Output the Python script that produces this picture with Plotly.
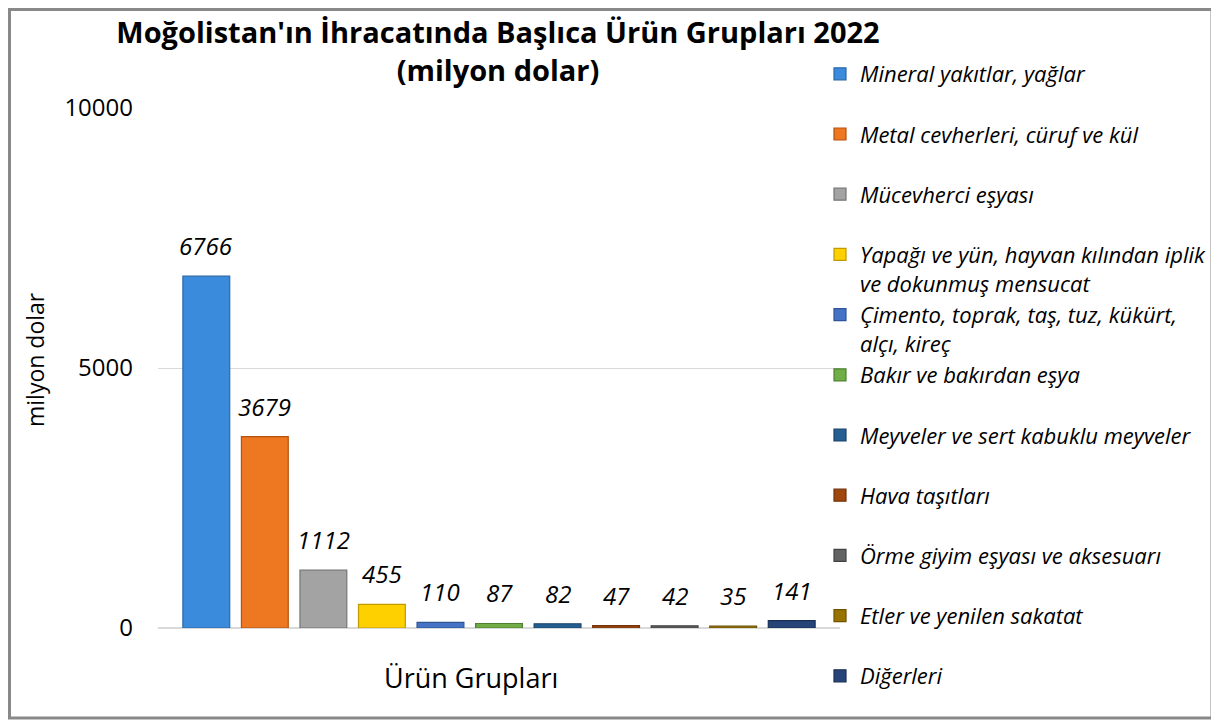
import plotly.graph_objects as go

# ---------------- data ----------------
categories = [
    "Mineral yakıtlar, yağlar",
    "Metal cevherleri, cüruf ve kül",
    "Mücevherci eşyası",
    "Yapağı ve yün, hayvan kılından iplik ve dokunmuş mensucat",
    "Çimento, toprak, taş, tuz, kükürt, alçı, kireç",
    "Bakır ve bakırdan eşya",
    "Meyveler ve sert kabuklu meyveler",
    "Hava taşıtları",
    "Örme giyim eşyası ve aksesuarı",
    "Etler ve yenilen sakatat",
    "Diğerleri",
]
legend_labels = [
    "Mineral yakıtlar, yağlar<br>\u00a0",
    "Metal cevherleri, cüruf ve kül<br>\u00a0",
    "Mücevherci eşyası<br>\u00a0",
    "Yapağı ve yün, hayvan kılından iplik<br>ve dokunmuş mensucat",
    "Çimento, toprak, taş, tuz, kükürt,<br>alçı, kireç",
    "Bakır ve bakırdan eşya<br>\u00a0",
    "Meyveler ve sert kabuklu meyveler<br>\u00a0",
    "Hava taşıtları<br>\u00a0",
    "Örme giyim eşyası ve aksesuarı<br>\u00a0",
    "Etler ve yenilen sakatat<br>\u00a0",
    "Diğerleri<br>\u00a0",
]
values = [6766, 3679, 1112, 455, 110, 87, 82, 47, 42, 35, 141]
y_ticks = [0, 5000, 10000]

title_line1 = "Moğolistan'ın İhracatında Başlıca Ürün Grupları 2022"
title_line2 = "(milyon dolar)"
y_title = "milyon dolar"
x_title = "Ürün Grupları"

fill_colors = ["#3A8BDB", "#EE7722", "#A3A3A3", "#FFD000", "#4472C4", "#70AD47",
               "#255E91", "#9E480E", "#636363", "#997300", "#264478"]
edge_colors = ["#2A68A8", "#B5520E", "#757575", "#C09A00", "#2F5597", "#4E8030",
               "#1A4469", "#73330A", "#444444", "#6E5300", "#1A2F55"]

# ---------------- layout geometry ----------------
# the page body adds an 8px offset, so the figure is 8px smaller on each axis
W, H = 1211, 716
L, R, T, B = 150, 1211 - 832, 100, 716 - 620
PW, PH = W - L - R, H - T - B

FONT = "Open Sans"

fig = go.Figure()
for i, (cat, val) in enumerate(zip(categories, values)):
    fig.add_trace(go.Bar(
        x=[cat], y=[val], name=legend_labels[i], legendgroup=f"g{i}",
        marker=dict(color=fill_colors[i], line=dict(color=edge_colors[i], width=1.2)),
        hovertemplate=f"{cat}: %{{y}}<extra></extra>",
    ))
    fig.add_annotation(
        x=cat, y=val, xref="x", yref="y", text=str(val), showarrow=False,
        yanchor="bottom", yshift=12,
        font=dict(family=FONT, size=24, color="#000000", style="italic"),
    )

# axis labels as text
fig.add_annotation(
    x=(463 - L) / PW, y=(620 - 669) / PH, xref="paper", yref="paper",
    text=x_title, showarrow=False, xanchor="center", yanchor="middle",
    font=dict(family=FONT, size=27, color="#000000"),
)
fig.add_annotation(
    x=(27 - L) / PW, y=(620 - 352) / PH, xref="paper", yref="paper",
    text=y_title, showarrow=False, textangle=-90, xanchor="center", yanchor="middle",
    font=dict(family=FONT, size=23, color="#000000"),
)

# outer border
fig.add_shape(
    type="rect", xref="paper", yref="paper",
    x0=(1.5 - L) / PW, x1=(1204 - L) / PW, y0=(620 - 710) / PH, y1=(620 - 1.5) / PH,
    line=dict(color="#898989", width=3), fillcolor="rgba(0,0,0,0)", layer="below",
)

fig.update_layout(
    width=W, height=H,
    margin=dict(l=L, r=R, t=T, b=B, autoexpand=False),
    paper_bgcolor="white", plot_bgcolor="white",
    barmode="overlay", bargap=0.2,
    showlegend=True,
    title=dict(
        text=f"<b>{title_line1}</b><br><b>{title_line2}</b>",
        x=490 / W, xanchor="center", xref="container",
        y=1 - 35 / H, yanchor="top", yref="container",
        font=dict(family=FONT, size=29, color="#000000"),
    ),
    legend=dict(
        x=(812 - L) / PW, xanchor="left", y=(620 - 45) / PH, yanchor="top",
        font=dict(family=FONT, size=22, color="#000000", style="italic"),
        tracegroupgap=1.5, valign="top", bgcolor="rgba(0,0,0,0)",
        traceorder="normal", maxheight=700,
    ),
    xaxis=dict(
        type="category", categoryorder="array", categoryarray=categories,
        range=[-0.825, 10.825], showticklabels=False, showgrid=False,
        showline=False, zeroline=False, ticks="",
    ),
    yaxis=dict(
        range=[0, 10000], tickvals=y_ticks, ticktext=[str(t) for t in y_ticks],
        showgrid=True, gridcolor="#D9D9D9", gridwidth=1,
        zeroline=True, zerolinecolor="#D9D9D9", zerolinewidth=1.5,
        showline=False, ticks="", ticklabelstandoff=24,
        tickfont=dict(family=FONT, size=24, color="#000000"),
    ),
    hovermode="closest",
)

fig.write_html("out.html")
